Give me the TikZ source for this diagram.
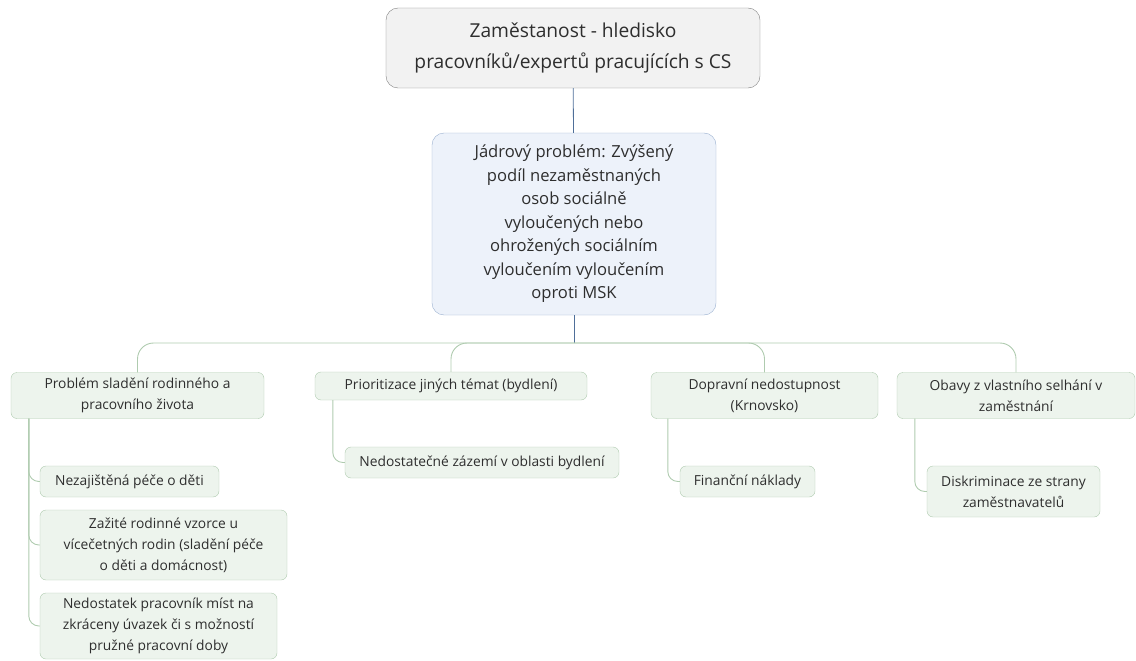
\documentclass[tikz,border=0pt]{standalone}
\usepackage{fontspec}
\setmainfont{Open Sans}
\usepackage{xcolor}
\definecolor{rootfill}{HTML}{F2F2F2}
\definecolor{rootline}{HTML}{808080}
\definecolor{corefill}{HTML}{EDF2FA}
\definecolor{coreline}{HTML}{9AB0CF}
\definecolor{leaffill}{HTML}{EDF4ED}
\definecolor{leafline}{HTML}{AFCBAF}
\definecolor{stem}{HTML}{4F6F99}
\definecolor{textgray}{HTML}{2E2E2E}
\usepackage{tikz}
\usetikzlibrary{calc,positioning}

\begin{document}
\begin{tikzpicture}[
  x=1pt, y=-1pt,
  rootbox/.style={draw=rootline, fill=rootfill, rounded corners=12pt, inner sep=0pt, text=textgray, font=\fontsize{19.2}{31}\selectfont, align=center},
  corebox/.style={draw=coreline, fill=corefill, rounded corners=12pt, inner sep=0pt, text=textgray, font=\fontsize{16.6}{23.5}\selectfont, align=center},
  leaf/.style={draw=leafline, fill=leaffill, rounded corners=6pt, inner sep=0pt, text=textgray, font=\fontsize{13.8}{21}\selectfont, align=center},
  stemline/.style={stem, line width=0.8pt},
  bus/.style={leafline, line width=0.9pt, rounded corners=16pt},
  sub/.style={leafline, line width=0.9pt, rounded corners=10pt}
]
  \useasboundingbox (0,0) rectangle (1136,661);
  \node[rootbox, minimum width=374pt, minimum height=80pt] (root) at (573,48) {Zaměstanost - hledisko\\pracovníků/expertů pracujících s CS};
  \node[corebox, minimum width=284pt, minimum height=182pt] (core) at (574,224) {Jádrový problém: Zvýšený\\podíl nezaměstnaných\\osob sociálně\\vyloučených nebo\\ohrožených sociálním\\vyloučením vyloučením\\oproti MSK};
  \coordinate (hub) at (574,343);

  \node[leaf, minimum width=253pt, minimum height=46pt] (rodina) at (137.5,395.5) {Problém sladění rodinného a\\pracovního života};
  \node[leaf, minimum width=272pt, minimum height=28pt] (temata) at (451,386) {Prioritizace jiných témat (bydlení)};
  \node[leaf, minimum width=227pt, minimum height=46pt] (doprava) at (764.5,395.5) {Dopravní nedostupnost\\(Krnovsko)};
  \node[leaf, minimum width=238pt, minimum height=46pt] (obavy) at (1016,395.5) {Obavy z vlastního selhání v\\zaměstnání};

  \node[leaf, minimum width=179pt, minimum height=31pt] (pece) at (129.5,481.5) {Nezajištěná péče o děti};
  \node[leaf, minimum width=247pt, minimum height=70pt] (vzorce) at (163.5,545) {Zažité rodinné vzorce u\\vícečetných rodin (sladění péče\\o děti a domácnost)};
  \node[leaf, minimum width=237pt, minimum height=66pt] (uvazek) at (158.5,626) {Nedostatek pracovník míst na\\zkráceny úvazek či s možností\\pružné pracovní doby};
  \node[leaf, minimum width=274pt, minimum height=31pt] (zazemi) at (482,462.5) {Nedostatečné zázemí v oblasti bydlení};
  \node[leaf, minimum width=135pt, minimum height=31pt] (naklady) at (747.5,481.5) {Finanční náklady};
  \node[leaf, minimum width=173pt, minimum height=51pt] (diskr) at (1013.5,491.5) {Diskriminace ze strany\\zaměstnavatelů};

  \draw[stemline] (root) -- (core);
  \draw[stemline] (core) -- (hub);
  \draw[bus] (hub) -| (rodina.north);
  \draw[bus] (hub) -| (temata.north);
  \draw[bus] (hub) -| (doprava.north);
  \draw[bus] (hub) -| (obavy.north);

  \draw[sub] ([xshift=18pt]rodina.south west) |- (pece.west);
  \draw[sub] ([xshift=18pt]rodina.south west) |- (vzorce.west);
  \draw[sub] ([xshift=18pt]rodina.south west) |- (uvazek.west);
  \draw[sub] ([xshift=18pt]temata.south west) |- (zazemi.west);
  \draw[sub] ([xshift=17pt]doprava.south west) |- (naklady.west);
  \draw[sub] ([xshift=18pt]obavy.south west) |- (diskr.west);
\end{tikzpicture}
\end{document}
